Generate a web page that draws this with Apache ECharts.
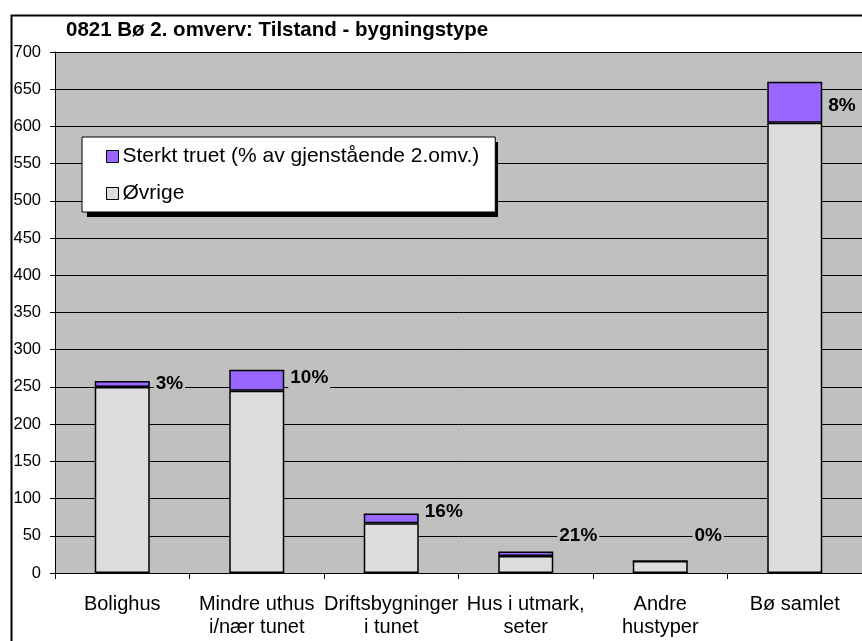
<!DOCTYPE html>
<html>
<head>
<meta charset="utf-8">
<script src="https://cdn.jsdelivr.net/npm/echarts@6/dist/echarts.min.js"></script>
<style>
  html, body { margin: 0; padding: 0; background: #fff; }
  #chart { width: 862px; height: 641px; }
</style>
</head>
<body>
<div id="chart"></div>
<script>
// categories and values
var categories = ["Bolighus", "Mindre uthus\ni/nær tunet", "Driftsbygninger\ni tunet", "Hus i utmark,\nseter", "Andre\nhustyper", "Bø samlet"];
var ovrige = [250, 245, 67, 23, 16, 605];
var sterktTruet = [8, 28, 13, 6, 0, 55];
var pctLabels = ["3%", "10%", "16%", "21%", "0%", "8%"];
var yTicks = [0, 700, 50];

// small vertical nudges so the % labels sit where they do in the original
var labelNudge = [0, -2, -7, -18, -25, 4];

var font = "'Liberation Sans', Arial, sans-serif";

var chart = echarts.init(document.getElementById("chart"));

var option = {
	animation: false,
	backgroundColor: "#ffffff",
	textStyle: { fontFamily: font, color: "#000" },
	title: {
		text: "0821 Bø 2. omverv: Tilstand - bygningstype",
		left: 66,
		top: 20,
		padding: 0,
		textStyle: { fontFamily: font, fontSize: 20.5, fontWeight: "bold", color: "#000" }
	},
	graphic: [
		{
			// outer chart frame
			type: "rect",
			left: 9,
			top: 13,
			z: -10,
			shape: { width: 880, height: 660 },
			style: { fill: null, stroke: "#000", lineWidth: 2 }
		},
		{
			// hard drop shadow behind the legend box
			type: "rect",
			left: 87,
			top: 142,
			z: 3,
			shape: { width: 411, height: 75 },
			style: { fill: "#000" }
		}
	],
	legend: {
		orient: "vertical",
		left: 82,
		top: 137,
		z: 4,
		padding: [9, 16, 8, 24],
		itemGap: 16,
		itemWidth: 12,
		itemHeight: 12,
		icon: "rect",
		backgroundColor: "#ffffff",
		borderColor: "#000",
		borderWidth: 1,
		textStyle: { fontFamily: font, fontSize: 21, color: "#000", padding: [0, 0, 0, -1] },
		itemStyle: { borderColor: "#000", borderWidth: 1 },
		data: ["Sterkt truet (% av gjenstående 2.omv.)", "Øvrige"]
	},
	grid: {
		left: 55,
		right: 0,
		top: 52,
		bottom: 68,
		show: true,
		backgroundColor: "#c0c0c0",
		borderWidth: 0
	},
	xAxis: {
		type: "category",
		data: categories,
		axisLine: { lineStyle: { color: "#000", width: 1 } },
		axisTick: { show: true, length: 6, lineStyle: { color: "#000" } },
		axisLabel: {
			interval: 0,
			fontFamily: font,
			fontSize: 20,
			lineHeight: 23,
			color: "#000",
			margin: 20
		}
	},
	yAxis: {
		type: "value",
		min: yTicks[0],
		max: yTicks[1],
		interval: yTicks[2],
		axisLine: { show: true, lineStyle: { color: "#000", width: 1 } },
		axisTick: { show: true, length: 5, lineStyle: { color: "#000" } },
		axisLabel: { fontFamily: font, fontSize: 16.5, color: "#000", margin: 14 },
		splitLine: { show: true, lineStyle: { color: "#000", width: 1 } }
	},
	series: [
		{
			name: "Øvrige",
			type: "bar",
			stack: "total",
			barWidth: 55,
			itemStyle: { color: "#dddddd", borderColor: "#000", borderWidth: 1.5 },
			data: ovrige
		},
		{
			name: "Sterkt truet (% av gjenstående 2.omv.)",
			type: "bar",
			stack: "total",
			barWidth: 55,
			itemStyle: { color: "#9966ff", borderColor: "#000", borderWidth: 1.5 },
			label: {
				show: true,
				position: "right",
				distance: 4,
				fontFamily: font,
				fontSize: 19,
				fontWeight: "bold",
				color: "#000",
				backgroundColor: "#c0c0c0",
				padding: [1, 2],
				formatter: function (p) { return pctLabels[p.dataIndex]; }
			},
			data: sterktTruet.map(function (v, i) {
				return { value: v, label: { offset: [0, labelNudge[i]] } };
			})
		}
	]
};

chart.setOption(option);
</script>
</body>
</html>
